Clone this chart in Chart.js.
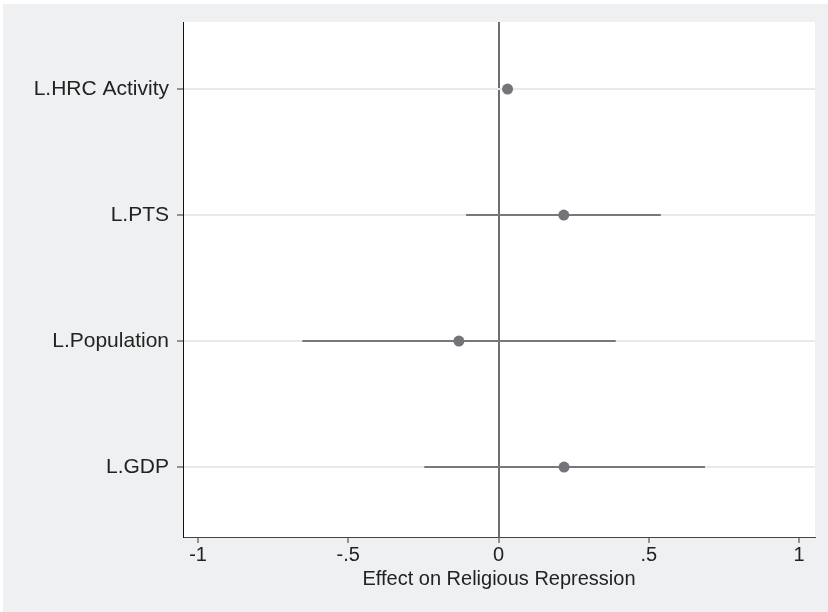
<!DOCTYPE html>
<html>
<head>
<meta charset="utf-8">
<script src="https://cdn.jsdelivr.net/npm/chart.js@4"></script>
<style>
  html, body { margin: 0; padding: 0; background: #fff; }
  #wrap { width: 828px; height: 612px; }
</style>
</head>
<body>
<div id="wrap"><canvas id="coefChart" width="828" height="612"></canvas></div>
<script>
// coefficient plot data
const labels = ['L.HRC Activity', 'L.PTS', 'L.Population', 'L.GDP'];
const rowPos = [1, 2, 3, 4];
const coef = [0.03, 0.217, -0.132, 0.218];
const ciLow = [0.02, -0.108, -0.653, -0.247];
const ciHigh = [0.04, 0.54, 0.39, 0.687];
const xTicks = [-1, -0.5, 0, 0.5, 1];

const stataNum = v => {
    if (v === 0) return '0';
    let s = String(v);
    return s.replace(/^(-?)0\./, '$1.');
};

// backgrounds: outer grey, white plot region
const bgPlugin = {
    id: 'bg',
    beforeDraw(chart) {
        const { ctx, chartArea: a, width, height } = chart;
        ctx.save();
        ctx.fillStyle = '#ffffff';
        ctx.fillRect(0, 0, width, height);
        ctx.fillStyle = '#eff0f2';
        ctx.fillRect(3, 4, width - 3, height - 4);
        ctx.fillStyle = '#ffffff';
        ctx.fillRect(a.left, a.top, a.right - a.left, a.bottom - a.top);
        ctx.restore();
    }
};

const ciSets = rowPos.map((y, i) => ({
    type: 'line',
    data: [{ x: ciLow[i], y: y }, { x: ciHigh[i], y: y }],
    borderColor: '#77777c', borderWidth: 2, pointRadius: 0, fill: false
}));

const pointSet = {
    type: 'scatter',
    data: rowPos.map((y, i) => ({ x: coef[i], y: y })),
    backgroundColor: '#737378', borderColor: '#737378',
    pointRadius: 5.5, pointHoverRadius: 5.5, borderWidth: 0
};

const font = { family: '"Liberation Sans", Arial, sans-serif', size: 20 };
const yFont = { family: '"Liberation Sans", Arial, sans-serif', size: 21 };

new Chart(document.getElementById('coefChart'), {
    type: 'scatter',
    data: { datasets: [pointSet, ...ciSets] },
    options: {
        responsive: false, animation: false,
        layout: { padding: { left: 3, top: 22, right: 13, bottom: 21 } },
        plugins: { legend: { display: false }, tooltip: { enabled: false } },
        scales: {
            x: {
                type: 'linear', min: -1.05, max: 1.053,
                afterBuildTicks: s => { s.ticks = xTicks.map(v => ({ value: v })); },
                ticks: { callback: v => stataNum(v), font: font, color: '#222', padding: 0, autoSkip: false, maxRotation: 0 },
                grid: {
                    color: c => (c.tick && c.tick.value === 0) ? '#6e6e6e' : 'rgba(0,0,0,0)',
                    lineWidth: 2, tickColor: '#333', tickWidth: 1, tickLength: 6
                },
                border: { display: true, color: '#444', width: 1 },
                title: { display: true, text: 'Effect on Religious Repression', font: font, color: '#222', padding: { top: 0, bottom: 0 } }
            },
            y: {
                type: 'linear', min: 0.468, max: 4.555, reverse: true,
                afterBuildTicks: s => { s.ticks = rowPos.map(v => ({ value: v })); },
                afterFit: s => { s.width = 180; },
                ticks: { callback: v => labels[rowPos.indexOf(v)], font: yFont, color: '#222', padding: 8, autoSkip: false },
                grid: { color: '#e9e9e9', lineWidth: 2, tickColor: '#333', tickWidth: 1, tickLength: 6 },
                border: { display: true, color: '#111', width: 1 }
            }
        }
    },
    plugins: [bgPlugin]
});
</script>
</body>
</html>
